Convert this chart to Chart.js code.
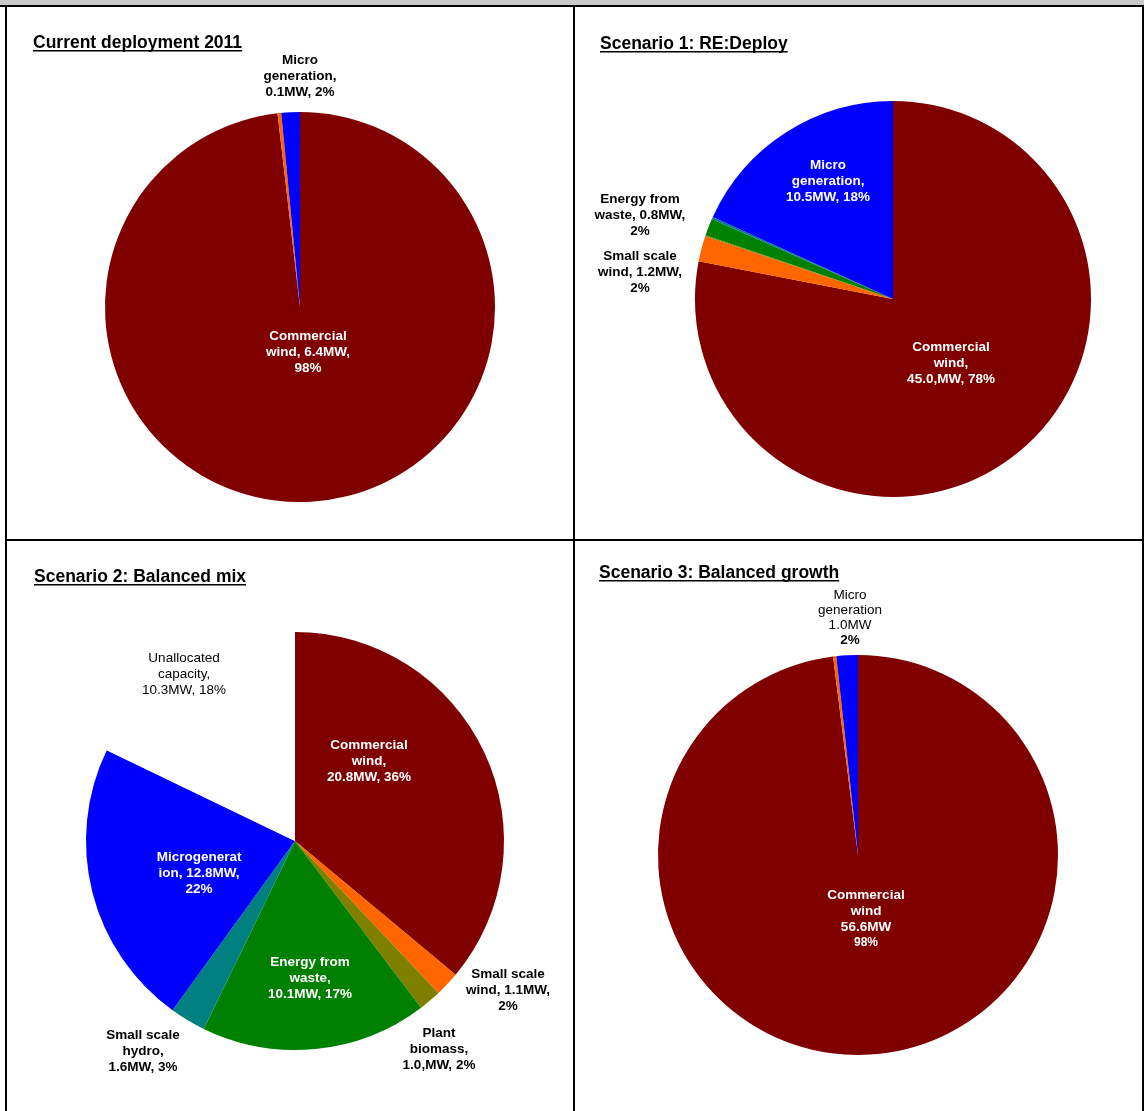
<!DOCTYPE html>
<html lang="en-GB">
<head>
  <title>Renewable energy deployment scenarios</title>
  <script type="text/javascript" src="https://cdn.jsdelivr.net/npm/chart.js"></script>
  <style>
    body { margin: 0; background: #fff; width: 1144px; height: 1111px; position: relative; overflow: hidden; }
    .band { position: absolute; left: 0; top: 0; width: 1144px; height: 5px; background: #c9c9c9; }
    .rule { position: absolute; background: #000; }
    canvas { position: absolute; }
  </style>
</head>
<body>
<div class="band"></div>
<div class="rule" style="left:0;top:5px;width:1144px;height:2px"></div>
<div class="rule" style="left:5px;top:5px;width:2px;height:1106px"></div>
<div class="rule" style="left:573px;top:5px;width:2px;height:1106px"></div>
<div class="rule" style="left:1142px;top:5px;width:2px;height:1106px"></div>
<div class="rule" style="left:5px;top:539px;width:1139px;height:2px"></div>

<canvas id="c2011" width="566" height="532" style="left:7px;top:7px"></canvas>
<canvas id="cS1" width="567" height="532" style="left:575px;top:7px"></canvas>
<canvas id="cS2" width="566" height="570" style="left:7px;top:541px"></canvas>
<canvas id="cS3" width="567" height="570" style="left:575px;top:541px"></canvas>

<script>
  // Categories and values (MW) for each pie
  const categories = ['Commercial wind', 'Small scale wind', 'Plant biomass', 'Energy from waste',
                      'Small scale hydro', 'Microgeneration', 'Unallocated capacity'];
  const current2011 = [6.4, 0.02, 0, 0, 0, 0.1, 0];
  const scenario1 = [45.0, 1.2, 0.05, 0.8, 0.1, 10.5, 0];
  const scenario2 = [20.8, 1.1, 1.0, 10.1, 1.6, 12.8, 10.3];
  const scenario3 = [56.6, 0.15, 0, 0, 0, 1.0, 0];

  // Data label text, one entry per category (null = no label)
  const labels2011 = [['Commercial', 'wind, 6.4MW,', '98%'], null, null, null, null,
                      ['Micro', 'generation,', '0.1MW, 2%'], null];
  const labelsS1 = [['Commercial', 'wind,', '45.0,MW, 78%'], ['Small scale', 'wind, 1.2MW,', '2%'], null,
                    ['Energy from', 'waste, 0.8MW,', '2%'], null,
                    ['Micro', 'generation,', '10.5MW, 18%'], null];
  const labelsS2 = [['Commercial', 'wind,', '20.8MW, 36%'], ['Small scale', 'wind, 1.1MW,', '2%'],
                    ['Plant', 'biomass,', '1.0,MW, 2%'], ['Energy from', 'waste,', '10.1MW, 17%'],
                    ['Small scale', 'hydro,', '1.6MW, 3%'], ['Microgenerat', 'ion, 12.8MW,', '22%'],
                    ['Unallocated', 'capacity,', '10.3MW, 18%']];
  const labelsS3 = [['Commercial', 'wind', '56.6MW', '98%'], null, null, null, null,
                    ['Micro', 'generation', '1.0MW', '2%'], null];

  const sliceColours = ['#800000', '#ff6600', '#808000', '#008000', '#008080', '#0000ff', '#ffffff'];
  const FONT = '"Liberation Sans", Arial, sans-serif';

  // label placement relative to pie centre, in units of the radius
  const W = '#ffffff', K = '#000000';
  const panels = [
    { id: 'c2011', title: 'Current deployment 2011', tx: 26, ty: 41, cx: 293, cy: 300, r: 195,
      values: current2011, text: labels2011,
      place: [{at: [0.041, 0.231], c: W}, null, null, null, null, {at: [0, -1.185], c: K}, null] },
    { id: 'cS1', title: 'Scenario 1: RE:Deploy', tx: 25, ty: 42, cx: 318, cy: 292, r: 198,
      values: scenario1, text: labelsS1,
      place: [{at: [0.293, 0.323], c: W}, {at: [-1.278, -0.136], c: K}, null,
              {at: [-1.278, -0.424], c: K}, null, {at: [-0.328, -0.596], c: W}, null] },
    { id: 'cS2', title: 'Scenario 2: Balanced mix', tx: 27, ty: 41, cx: 288, cy: 300, r: 209,
      values: scenario2, text: labelsS2,
      place: [{at: [0.354, -0.383], c: W}, {at: [1.019, 0.713], c: K}, {at: [0.689, 0.995], c: K},
              {at: [0.072, 0.656], c: W}, {at: [-0.727, 1.005], c: K}, {at: [-0.459, 0.153], c: W},
              {at: [-0.531, -0.799], c: K, w: 'normal'}] },
    { id: 'cS3', title: 'Scenario 3: Balanced growth', tx: 24, ty: 37, cx: 283, cy: 314, r: 200,
      values: scenario3, text: labelsS3,
      place: [{at: [0.04, 0.32], c: W, sizes: [13.5, 13.5, 13.5, 12]}, null, null, null, null,
              {at: [-0.04, -1.185], c: K, lh: 15, weights: ['normal', 'normal', 'normal', 'bold']}, null] }
  ];

  function makeLabels(p) {
    return {
      id: 'sliceLabels',
      afterDatasetsDraw(chart) {
        const ctx = chart.ctx;
        const arcs = chart.getDatasetMeta(0).data;
        ctx.save();
        ctx.textAlign = 'center';
        ctx.textBaseline = 'middle';
        p.text.forEach((lines, i) => {
          if (!lines) return;
          const pl = p.place[i];
          const a = arcs[i].getProps(['x', 'y', 'outerRadius'], true);
          const lx = a.x + pl.at[0] * a.outerRadius;
          const ly = a.y + pl.at[1] * a.outerRadius;
          const lh = pl.lh || 16;
          lines.forEach((t, j) => {
            const w = (pl.weights && pl.weights[j]) || pl.w || 'bold';
            const s = (pl.sizes && pl.sizes[j]) || 13.5;
            ctx.font = w + ' ' + s + 'px ' + FONT;
            ctx.fillStyle = pl.c;
            ctx.fillText(t, lx, ly + (j - (lines.length - 1) / 2) * lh);
          });
        });
        // underlined panel title
        ctx.textAlign = 'left';
        ctx.textBaseline = 'alphabetic';
        ctx.font = 'bold 17.5px ' + FONT;
        ctx.fillStyle = '#000';
        ctx.fillText(p.title, p.tx, p.ty);
        const tw = ctx.measureText(p.title).width;
        ctx.fillRect(p.tx, p.ty + 2, tw, 1.5);
        ctx.restore();
      }
    };
  }

  panels.forEach(p => {
    const el = document.getElementById(p.id);
    new Chart(el, {
      type: 'pie',
      data: {
        labels: categories,
        datasets: [{
          data: p.values,
          backgroundColor: sliceColours,
          borderWidth: 0,
          hoverOffset: 0
        }]
      },
      options: {
        responsive: false,
        animation: false,
        radius: p.r,
        layout: {
          padding: {
            left: p.cx - p.r,
            top: p.cy - p.r,
            right: el.width - p.cx - p.r,
            bottom: el.height - p.cy - p.r
          }
        },
        plugins: {
          legend: { display: false },
          tooltip: { enabled: false }
        }
      },
      plugins: [makeLabels(p)]
    });
  });
</script>
</body>
</html>
